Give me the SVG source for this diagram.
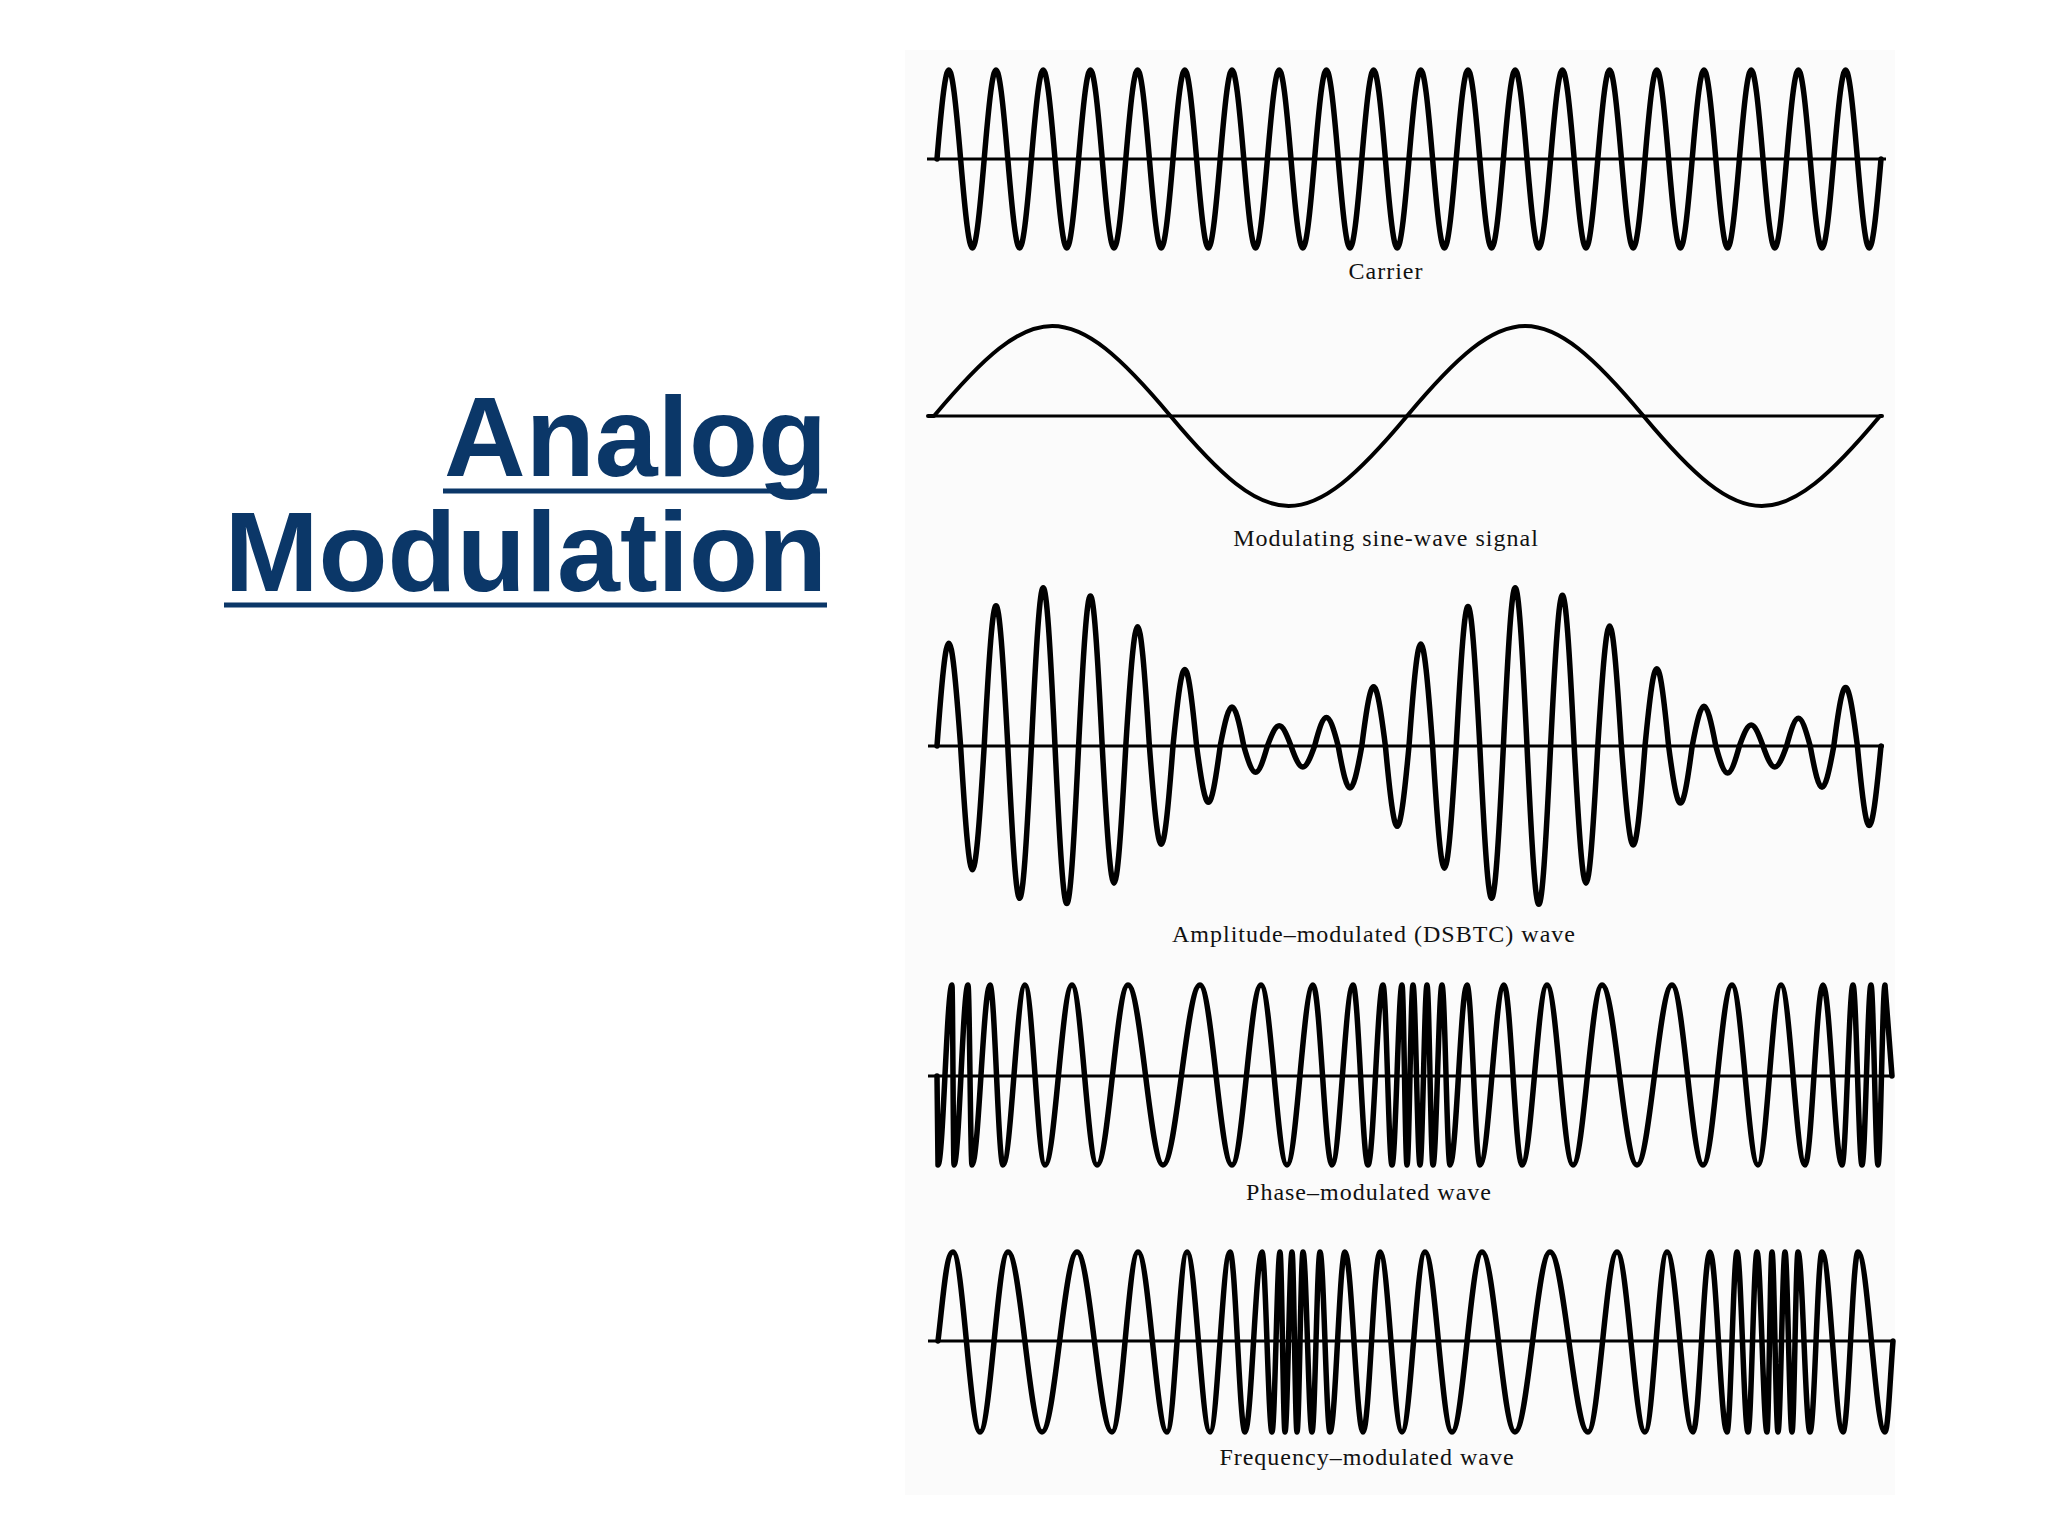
<svg xmlns="http://www.w3.org/2000/svg" width="2048" height="1536" viewBox="0 0 2048 1536">
<style>
.w{fill:none;stroke:#000;stroke-width:5.5;stroke-linejoin:round;stroke-linecap:round}
.ax{stroke:#000;stroke-width:3}
.lb{font-family:"Liberation Serif",serif;font-size:24px;letter-spacing:1px;text-anchor:middle;fill:#111}
.tt{font-family:"Liberation Sans",Arial,sans-serif;font-weight:bold;font-size:113px;fill:#0b3768;text-anchor:end}
.ul{stroke:#0b3768;stroke-width:5}
</style>
<rect width="2048" height="1536" fill="#fff"/>
<rect x="905" y="50" width="990" height="1445" fill="#fbfbfb"/>
<g id="title">
<text class="tt" x="827" y="476">Analog</text>
<line class="ul" x1="443" y1="491" x2="827" y2="491"/>
<text class="tt" x="827" y="591">Modulation</text>
<line class="ul" x1="224" y1="605" x2="827" y2="605"/>
</g>
<g id="carrier">
<line class="ax" x1="927" y1="159" x2="1886" y2="159"/>
<path class="w" d="M937,159 c10,-118.7 13.6,-118.7 23.6,0 c10,118.7 13.6,118.7 23.6,0 c10,-118.7 13.6,-118.7 23.6,0 c10,118.7 13.6,118.7 23.6,0 c10,-118.7 13.6,-118.7 23.6,0 c10,118.7 13.6,118.7 23.6,0 c10,-118.7 13.6,-118.7 23.6,0 c10,118.7 13.6,118.7 23.6,0 c10,-118.7 13.6,-118.7 23.6,0 c10,118.7 13.6,118.7 23.6,0 c10,-118.7 13.6,-118.7 23.6,0 c10,118.7 13.6,118.7 23.6,0 c10,-118.7 13.6,-118.7 23.6,0 c10,118.7 13.6,118.7 23.6,0 c10,-118.7 13.6,-118.7 23.6,0 c10,118.7 13.6,118.7 23.6,0 c10,-118.7 13.6,-118.7 23.6,0 c10,118.7 13.6,118.7 23.6,0 c10,-118.7 13.6,-118.7 23.6,0 c10,118.7 13.6,118.7 23.6,0 c10,-118.7 13.6,-118.7 23.6,0 c10,118.7 13.6,118.7 23.6,0 c10,-118.7 13.6,-118.7 23.6,0 c10,118.7 13.6,118.7 23.6,0 c10,-118.7 13.6,-118.7 23.6,0 c10,118.7 13.6,118.7 23.6,0 c10,-118.7 13.6,-118.7 23.6,0 c10,118.7 13.6,118.7 23.6,0 c10,-118.7 13.6,-118.7 23.6,0 c10,118.7 13.6,118.7 23.6,0 c10,-118.7 13.6,-118.7 23.6,0 c10,118.7 13.6,118.7 23.6,0 c10,-118.7 13.6,-118.7 23.6,0 c10,118.7 13.6,118.7 23.6,0 c10,-118.7 13.6,-118.7 23.6,0 c10,118.7 13.6,118.7 23.6,0 c10,-118.7 13.6,-118.7 23.6,0 c10,118.7 13.6,118.7 23.6,0 c10,-118.7 13.6,-118.7 23.6,0 c10,118.7 13.6,118.7 23.6,0"/>
<text class="lb" x="1386" y="279">Carrier</text>
</g>
<g id="modulating">
<line class="ax" x1="928" y1="416" x2="1882" y2="416"/>
<path class="w" style="stroke-width:4" d="M928,416 L934,416 c100.4,-120 136.1,-120 236.5,0 c100.4,120 136.1,120 236.5,0 c100.4,-120 136.1,-120 236.5,0 c100.4,120 136.1,120 236.5,0 L1882,416"/>
<text class="lb" x="1386" y="546">Modulating sine-wave signal</text>
</g>
<g id="am">
<line class="ax" x1="928" y1="746" x2="1884" y2="746"/>
<path class="w" d="M937,746 c10,-137 13.6,-137 23.6,0 c10,165 13.6,165 23.6,0 c10,-187 13.6,-187 23.6,0 c10,203 13.6,203 23.6,0 c10,-211 13.6,-211 23.6,0 c10,210 13.6,210 23.6,0 c10,-200 13.6,-200 23.6,0 c10,183 13.6,183 23.6,0 c10,-159 13.6,-159 23.6,0 c10,131 13.6,131 23.6,0 c10,-102 13.6,-102 23.6,0 c10,75 13.6,75 23.6,0 c10,-52 13.6,-52 23.6,0 c10,35 13.6,35 23.6,0 c10,-27 13.6,-27 23.6,0 c10,28 13.6,28 23.6,0 c10,-38 13.6,-38 23.6,0 c10,56 13.6,56 23.6,0 c10,-79 13.6,-79 23.6,0 c10,107 13.6,107 23.6,0 c10,-136 13.6,-136 23.6,0 c10,163 13.6,163 23.6,0 c10,-186 13.6,-186 23.6,0 c10,203 13.6,203 23.6,0 c10,-211 13.6,-211 23.6,0 c10,211 13.6,211 23.6,0 c10,-201 13.6,-201 23.6,0 c10,183 13.6,183 23.6,0 c10,-160 13.6,-160 23.6,0 c10,132 13.6,132 23.6,0 c10,-103 13.6,-103 23.6,0 c10,76 13.6,76 23.6,0 c10,-53 13.6,-53 23.6,0 c10,36 13.6,36 23.6,0 c10,-28 13.6,-28 23.6,0 c10,28 13.6,28 23.6,0 c10,-37 13.6,-37 23.6,0 c10,55 13.6,55 23.6,0 c10,-78 13.6,-78 23.6,0 c10,106 13.6,106 23.6,0"/>
<text class="lb" x="1374" y="942">Amplitude–modulated (DSBTC) wave</text>
</g>
<g id="pm">
<line class="ax" x1="928" y1="1076" x2="1893" y2="1076"/>
<path class="w" d="M937,1076 L938,1165 C943.1,1165 946.9,985 952,985 C952.7,985 953.3,1165 954,1165 C959.1,1165 962.9,985 968,985 C969.5,985 970.5,1165 972,1165 C978.5,1165 983.5,985 990,985 C994.7,985 998.3,1165 1003,1165 C1011,1165 1017,985 1025,985 C1032.3,985 1037.7,1165 1045,1165 C1054.8,1165 1062.2,985 1072,985 C1081.1,985 1087.9,1165 1097,1165 C1108.3,1165 1116.7,985 1128,985 C1140.7,985 1150.3,1165 1163,1165 C1176.4,1165 1186.6,985 1200,985 C1211.6,985 1220.4,1165 1232,1165 C1242.5,1165 1250.5,985 1261,985 C1270.4,985 1277.6,1165 1287,1165 C1296.4,1165 1303.6,985 1313,985 C1319.9,985 1325.1,1165 1332,1165 C1339.6,1165 1345.4,985 1353,985 C1358.4,985 1362.6,1165 1368,1165 C1373.4,1165 1377.6,985 1383,985 C1386.3,985 1388.7,1165 1392,1165 C1395.6,1165 1398.4,985 1402,985 C1403.8,985 1405.2,1165 1407,1165 C1409.2,1165 1410.8,985 1413,985 C1415.5,985 1417.5,1165 1420,1165 C1422.5,1165 1424.5,985 1427,985 C1429.2,985 1430.8,1165 1433,1165 C1436.3,1165 1438.7,985 1442,985 C1444.9,985 1447.1,1165 1450,1165 C1456.2,1165 1460.8,985 1467,985 C1471.7,985 1475.3,1165 1480,1165 C1488.7,1165 1495.3,985 1504,985 C1510.5,985 1515.5,1165 1522,1165 C1531.1,1165 1537.9,985 1547,985 C1556.4,985 1563.6,1165 1573,1165 C1583.5,1165 1591.5,985 1602,985 C1614.7,985 1624.3,1165 1637,1165 C1649.7,1165 1659.3,985 1672,985 C1683.3,985 1691.7,1165 1703,1165 C1713.5,1165 1721.5,985 1732,985 C1741.4,985 1748.6,1165 1758,1165 C1766.3,1165 1772.7,985 1781,985 C1789.7,985 1796.3,1165 1805,1165 C1811.5,1165 1816.5,985 1823,985 C1829.9,985 1835.1,1165 1842,1165 C1846,1165 1849,985 1853,985 C1856.3,985 1858.7,1165 1862,1165 C1865.3,1165 1867.7,985 1871,985 C1873.5,985 1875.5,1165 1878,1165 C1880.5,1165 1882.5,985 1885,985 L1892,1076"/>
<text class="lb" x="1369" y="1200">Phase–modulated wave</text>
</g>
<g id="fm">
<line class="ax" x1="928" y1="1341" x2="1893" y2="1341"/>
<path class="w" d="M938,1341 C943,1300 946,1252 953,1252 C962.8,1252 970.2,1432 980,1432 C990.2,1432 997.8,1252 1008,1252 C1020.3,1252 1029.7,1432 1042,1432 C1054.7,1432 1064.3,1252 1077,1252 C1089.7,1252 1099.3,1432 1112,1432 C1121.4,1432 1128.6,1252 1138,1252 C1148.5,1252 1156.5,1432 1167,1432 C1174.3,1432 1179.7,1252 1187,1252 C1195.3,1252 1201.7,1432 1210,1432 C1217.3,1432 1222.7,1252 1230,1252 C1235.4,1252 1239.6,1432 1245,1432 C1251.2,1432 1255.8,1252 1262,1252 C1265.6,1252 1268.4,1432 1272,1432 C1274.9,1432 1277.1,1252 1280,1252 C1281.8,1252 1283.2,1432 1285,1432 C1287.5,1432 1289.5,1252 1292,1252 C1293.8,1252 1295.2,1432 1297,1432 C1299.2,1432 1300.8,1252 1303,1252 C1306.3,1252 1308.7,1432 1312,1432 C1314.9,1432 1317.1,1252 1320,1252 C1323.6,1252 1326.4,1432 1330,1432 C1335.4,1432 1339.6,1252 1345,1252 C1351.5,1252 1356.5,1432 1363,1432 C1369.2,1432 1373.8,1252 1380,1252 C1388,1252 1394,1432 1402,1432 C1410.3,1432 1416.7,1252 1425,1252 C1434.8,1252 1442.2,1432 1452,1432 C1462.9,1432 1471.1,1252 1482,1252 C1494,1252 1503,1432 1515,1432 C1527.7,1432 1537.3,1252 1550,1252 C1563.8,1252 1574.2,1432 1588,1432 C1598.5,1432 1606.5,1252 1617,1252 C1627.2,1252 1634.8,1432 1645,1432 C1653,1432 1659,1252 1667,1252 C1676.4,1252 1683.6,1432 1693,1432 C1699.2,1432 1703.8,1252 1710,1252 C1716.2,1252 1720.8,1432 1727,1432 C1730.6,1432 1733.4,1252 1737,1252 C1741,1252 1744,1432 1748,1432 C1751.3,1432 1753.7,1252 1757,1252 C1760.6,1252 1763.4,1432 1767,1432 C1768.8,1432 1770.2,1252 1772,1252 C1774.2,1252 1775.8,1432 1778,1432 C1780.5,1432 1782.5,1252 1785,1252 C1787.5,1252 1789.5,1432 1792,1432 C1794.2,1432 1795.8,1252 1798,1252 C1802.4,1252 1805.6,1432 1810,1432 C1814.4,1432 1817.6,1252 1822,1252 C1829.6,1252 1835.4,1432 1843,1432 C1848.4,1432 1852.6,1252 1858,1252 C1867.8,1252 1875.2,1432 1885,1432 C1888,1432 1890,1380 1893,1341"/>
<text class="lb" x="1367" y="1465">Frequency–modulated wave</text>
</g>
</svg>
